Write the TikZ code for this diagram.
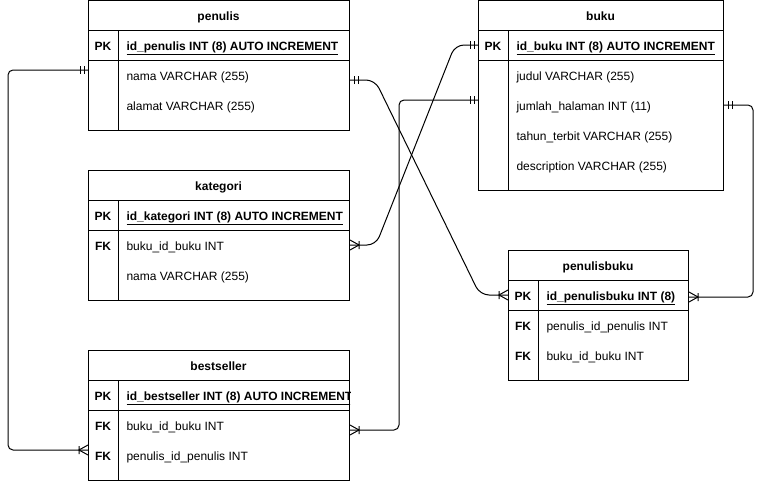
\documentclass[tikz,border=0pt,12pt]{standalone}
\usepackage{fontspec}
\setmainfont{Liberation Sans}
\usetikzlibrary{calc}

\tikzset{
  tbl/.style={draw,line width=1pt,anchor=north west,inner sep=0pt},
  title/.style={font=\bfseries,text height=11.5pt,text depth=0.5pt,inner sep=0pt},
  key/.style={font=\bfseries,text height=11.5pt,text depth=0.5pt,inner sep=0pt},
  fld/.style={anchor=west,inner sep=0pt,text height=11.5pt,text depth=0.5pt},
  pkfld/.style={fld,font=\bfseries},
  rel/.style={line width=1pt,rounded corners=5pt},
  pics/mone/.style={code={\draw[line width=1pt] (-4,-4)--(-4,4) (-8,-4)--(-8,4);}},
  pics/cmany/.style={code={\draw[line width=1pt] (0,-5)--(-9,0)--(0,5) (-9,-4)--(-9,4);}}
}

\begin{document}
\begin{tikzpicture}[x=1pt,y=-1pt,line width=1pt]
  \useasboundingbox (0,0) rectangle (764,482);

  % penulis
  \node[tbl,minimum width=261,minimum height=130] (penulis) at (88,0) {};
  \draw (88,30)--(349,30) (88,60)--(349,60) (118,30)--(118,130);
  \node[title] (penulis-h) at (218.5,15) {penulis};
  \node[key] (penulis-k0) at (103,45) {PK};
  \node[pkfld] (penulis-f0) at (126,45) {\underline{id\_penulis INT (8) AUTO INCREMENT}};
  \node[fld] (penulis-f1) at (126,75) {nama VARCHAR (255)};
  \node[fld] (penulis-f2) at (126,105) {alamat VARCHAR (255)};

  % buku
  \node[tbl,minimum width=245,minimum height=190] (buku) at (478,0) {};
  \draw (478,30)--(723,30) (478,60)--(723,60) (508,30)--(508,190);
  \node[title] (buku-h) at (600.5,15) {buku};
  \node[key] (buku-k0) at (493,45) {PK};
  \node[pkfld] (buku-f0) at (516,45) {\underline{id\_buku INT (8) AUTO INCREMENT}};
  \node[fld] (buku-f1) at (516,75) {judul VARCHAR (255)};
  \node[fld] (buku-f2) at (516,105) {jumlah\_halaman INT (11)};
  \node[fld] (buku-f3) at (516,135) {tahun\_terbit VARCHAR (255)};
  \node[fld] (buku-f4) at (516,165) {description VARCHAR (255)};

  % kategori
  \node[tbl,minimum width=261,minimum height=130] (kategori) at (88,170) {};
  \draw (88,200)--(349,200) (88,230)--(349,230) (118,200)--(118,300);
  \node[title] (kategori-h) at (218.5,185) {kategori};
  \node[key] (kategori-k0) at (103,215) {PK};
  \node[key] (kategori-k1) at (103,245) {FK};
  \node[pkfld] (kategori-f0) at (126,215) {\underline{id\_kategori INT (8) AUTO INCREMENT}};
  \node[fld] (kategori-f1) at (126,245) {buku\_id\_buku INT};
  \node[fld] (kategori-f2) at (126,275) {nama VARCHAR (255)};

  % penulisbuku
  \node[tbl,minimum width=180,minimum height=130] (penulisbuku) at (508,250) {};
  \draw (508,280)--(688,280) (508,310)--(688,310) (538,280)--(538,380);
  \node[title] (penulisbuku-h) at (598,265) {penulisbuku};
  \node[key] (penulisbuku-k0) at (523,295) {PK};
  \node[key] (penulisbuku-k1) at (523,325) {FK};
  \node[key] (penulisbuku-k2) at (523,355) {FK};
  \node[pkfld] (penulisbuku-f0) at (546,295) {\underline{id\_penulisbuku INT (8)}};
  \node[fld] (penulisbuku-f1) at (546,325) {penulis\_id\_penulis INT};
  \node[fld] (penulisbuku-f2) at (546,355) {buku\_id\_buku INT};

  % bestseller
  \node[tbl,minimum width=261,minimum height=130] (bestseller) at (88,350) {};
  \draw (88,380)--(349,380) (88,410)--(349,410) (118,380)--(118,480);
  \node[title] (bestseller-h) at (218.5,365) {bestseller};
  \node[key] (bestseller-k0) at (103,395) {PK};
  \node[key] (bestseller-k1) at (103,425) {FK};
  \node[key] (bestseller-k2) at (103,455) {FK};
  \begin{scope}
    \clip (bestseller.south west) rectangle (bestseller.north east);
    \node[pkfld] (bestseller-f0) at (126,395) {\underline{id\_bestseller INT (8) AUTO INCREMENT}};
  \end{scope}
  \node[fld] (bestseller-f1) at (126,425) {buku\_id\_buku INT};
  \node[fld] (bestseller-f2) at (126,455) {penulis\_id\_penulis INT};

  % relations
  \draw[rel] ([yshift=-70pt]penulis.north west) -- ++(-80,0) -- ++(0,380)
      -- ([yshift=-100pt]bestseller.north west);
  \draw[rel,rounded corners=9pt] ([yshift=-80pt]penulis.north east) -- ++(25,0)
      -- ($([yshift=-45pt]penulisbuku.north west)+(-28,0)$) -- ([yshift=-45pt]penulisbuku.north west);
  \draw[rel,rounded corners=9pt] ([yshift=-75pt]kategori.north east) -- ++(26,0)
      -- ($([yshift=-45pt]buku.north west)+(-23,0)$) -- ([yshift=-45pt]buku.north west);
  \draw[rel] ([yshift=-100pt]buku.north west) -- ++(-79,0) -- ++(0,330)
      -- ([yshift=-80pt]bestseller.north east);
  \draw[rel] ([yshift=-105pt]buku.north east) -- ++(29,0) -- ++(0,192)
      -- ([yshift=-47pt]penulisbuku.north east);

  % ends
  \pic at ([yshift=-70pt]penulis.north west) {mone};
  \pic at ([yshift=-100pt]bestseller.north west) {cmany};
  \pic[rotate=180] at ([yshift=-80pt]penulis.north east) {mone};
  \pic at ([yshift=-45pt]penulisbuku.north west) {cmany};
  \pic at ([yshift=-45pt]buku.north west) {mone};
  \pic[rotate=180] at ([yshift=-75pt]kategori.north east) {cmany};
  \pic at ([yshift=-100pt]buku.north west) {mone};
  \pic[rotate=180] at ([yshift=-80pt]bestseller.north east) {cmany};
  \pic[rotate=180] at ([yshift=-105pt]buku.north east) {mone};
  \pic[rotate=180] at ([yshift=-47pt]penulisbuku.north east) {cmany};
\end{tikzpicture}
\end{document}
